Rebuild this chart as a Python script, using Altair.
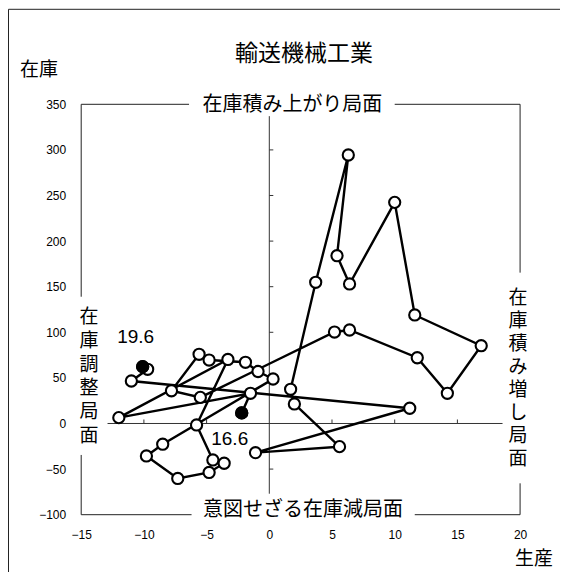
import altair as alt
import pandas as pd

# ---- data (production vs inventory, y/y %) ----
months = ["16.6", "16.7", "16.8", "16.9", "16.10", "16.11", "16.12",
          "17.1", "17.2", "17.3", "17.4", "17.5", "17.6", "17.7", "17.8",
          "17.9", "17.10", "17.11", "17.12",
          "18.1", "18.2", "18.3", "18.4", "18.5", "18.6", "18.7", "18.8",
          "18.9", "18.10", "18.11", "18.12",
          "19.1", "19.2", "19.3", "19.4", "19.5", "19.6"]
production = [-2.2, -1.5, -12.0, -3.3, -5.8, -4.5, -3.6, -4.8, -7.3, -9.8,
              -8.5, 0.3, -0.9, -1.9, -4.8, -5.6, -7.8, -5.5, 5.2, 6.4,
              11.8, 14.2, 16.9, 11.6, 10.0, 6.4, 5.4, 6.3, 3.7, 1.7,
              2.0, 5.6, -1.1, 11.2, -11.0, -9.7, -10.1]
inventory = [11.6, 33.1, 6.4, 70.2, -1.6, -40.0, -43.6, -53.7, -60.3, -35.6,
             -22.7, 48.8, 57.0, 67.1, 69.6, 75.9, 35.9, 28.6, 100.3, 102.5,
             72.1, 33.1, 85.3, 119.0, 242.5, 153.0, 184.0, 294.4, 154.8, 37.5,
             21.4, -25.4, -32.0, 16.7, 46.6, 59.4, 62.3]
highlight = ["16.6", "19.6"]

x_ticks = [-15, -10, -5, 0, 5, 10, 15, 20]
y_ticks = [-100, -50, 0, 50, 100, 150, 200, 250, 300, 350]
h_axis_ticks = [-10, -5, 5, 10, 15]
v_axis_ticks = [-50, 50, 100, 150, 200, 250, 300]

title_text = "輸送機械工業"
y_title = "在庫"
x_title = "生産"
q_top = "在庫積み上がり局面"
q_bottom = "意図せざる在庫減局面"
q_left = "在庫調整局面"
q_right = "在庫積み増し局面"

df = pd.DataFrame({"month": months, "prod": production, "inv": inventory})
df["idx"] = range(len(df))

# frame (quadrant box with gaps for the labels) and the inner axes
frame = pd.DataFrame([
    {"x": -15, "y": 350, "x2": -6.4, "y2": 350},
    {"x": 10.0, "y": 350, "x2": 20, "y2": 350},
    {"x": 20, "y": 350, "x2": 20, "y2": 165.4},
    {"x": 20, "y": -65.6, "x2": 20, "y2": -100},
    {"x": -15, "y": -100, "x2": -6.2, "y2": -100},
    {"x": 11.6, "y": -100, "x2": 20, "y2": -100},
    {"x": -15, "y": 350, "x2": -15, "y2": 139},
    {"x": -15, "y": -34.5, "x2": -15, "y2": -100},
])
inner = pd.DataFrame([
    {"x": 0, "y": -77, "x2": 0, "y2": 337},
    {"x": -12.9, "y": 0, "x2": 18.6, "y2": 0},
])
hticks = pd.DataFrame({"x": h_axis_ticks, "y": [0] * len(h_axis_ticks)})
vticks = pd.DataFrame({"y": v_axis_ticks, "x": [0] * len(v_axis_ticks)})

xs = alt.Scale(domain=[-15, 20], nice=False, zero=False)
ys = alt.Scale(domain=[-100, 350], nice=False, zero=False)
NUM = "Liberation Sans"
JP = "Noto Sans CJK JP"
JP_STACKED = "'Liberation Sans', 'Noto Sans CJK JP'"
x_axis = alt.Axis(values=x_ticks, domain=False, ticks=False, tickSize=0, grid=False,
                  labelPadding=15, labelFontSize=12, labelFont=NUM, labelColor="black",
                  labelFlush=False, labelOverlap=False, title=None)
y_axis = alt.Axis(values=y_ticks, domain=False, ticks=False, tickSize=0, grid=False,
                  labelPadding=15.5, labelFontSize=12, labelFont=NUM, labelColor="black",
                  labelFlush=False, labelOverlap=False, title=None)


def X(f):
    return alt.X(f, type="quantitative", scale=xs, axis=x_axis)


def Y(f):
    return alt.Y(f, type="quantitative", scale=ys, axis=y_axis)


frame_l = alt.Chart(frame).mark_rule(color="#222", strokeWidth=1).encode(
    x=X("x"), y=Y("y"), x2="x2", y2="y2")
inner_l = alt.Chart(inner).mark_rule(color="#333", strokeWidth=1).encode(
    x=X("x"), y=Y("y"), x2="x2", y2="y2")
hticks_l = alt.Chart(hticks).mark_rule(color="#333", strokeWidth=1, y2Offset=-4).encode(
    x=X("x"), y=Y("y"), y2="y")
vticks_l = alt.Chart(vticks).mark_rule(color="#333", strokeWidth=1, x2Offset=4).encode(
    x=X("x"), y=Y("y"), x2="x")

path = alt.Chart(df).mark_line(color="black", strokeWidth=2.4).encode(
    x=X("prod"), y=Y("inv"), order="idx:Q")
pts = alt.Chart(df).mark_circle(fill="white", stroke="black", strokeWidth=2.1,
                                size=125, opacity=1).encode(x=X("prod"), y=Y("inv"))
blk = alt.Chart(df).transform_filter(
    alt.FieldOneOfPredicate(field="month", oneOf=highlight)
).mark_circle(color="black", stroke="black", strokeWidth=2.1, size=125, opacity=1).encode(
    x=X("prod"), y=Y("inv"))

lab_end = alt.Chart(df).transform_filter(alt.datum.month == highlight[1]).mark_text(
    font=NUM, fontSize=19, color="black", align="center", baseline="middle",
    dx=-7, dy=-30).encode(x=X("prod"), y=Y("inv"), text="month:N")
lab_start = alt.Chart(df).transform_filter(alt.datum.month == highlight[0]).mark_text(
    font=NUM, fontSize=19, color="black", align="center", baseline="middle",
    dx=-12, dy=26).encode(x=X("prod"), y=Y("inv"), text="month:N")

one = alt.Data(values=[{}])


def label(txt, x, y, size, baseline="middle", lh=None, font=JP):
    kw = dict(font=font, fontSize=size, color="black", align="center", baseline=baseline)
    if lh is not None:
        kw["lineHeight"] = lh
    return alt.Chart(one).mark_text(**kw).encode(
        x=alt.value(x), y=alt.value(y), text=alt.value(txt))


texts = [
    label(title_text, 222.8, -50.0, 23),
    label(y_title, -42.2, -34.5, 19),
    label(x_title, 452.8, 455.2, 19),
    label(q_top, 211.2, 0.6, 20),
    label(q_bottom, 221.8, 405.6, 20),
    label(list(q_left), 7.7, 203.8, 19, baseline="top", lh=23.8, font=JP_STACKED),
    label(list(q_right), 436.7, 184.3, 19, baseline="top", lh=23.1, font=JP_STACKED),
]

border_left = alt.Chart(one).mark_rule(color="#222", strokeWidth=1).encode(
    x=alt.value(-72.7), y=alt.value(-95), y2=alt.value(480))
border_top = alt.Chart(one).mark_rule(color="#222", strokeWidth=1).encode(
    x=alt.value(-72.7), x2=alt.value(480), y=alt.value(-95))

chart = alt.layer(
    border_left, border_top, frame_l, inner_l, hticks_l, vticks_l,
    path, pts, blk, lab_end, lab_start, *texts
).properties(
    width=438.9, height=410.4,
    padding={"left": 73.2, "top": 96.3, "right": 40, "bottom": 57},
    autosize=alt.AutoSizeParams(type="none"),
    background="white",
).configure_view(stroke="transparent")

chart.save("out.html", embed_options={"renderer": "svg", "actions": False})
